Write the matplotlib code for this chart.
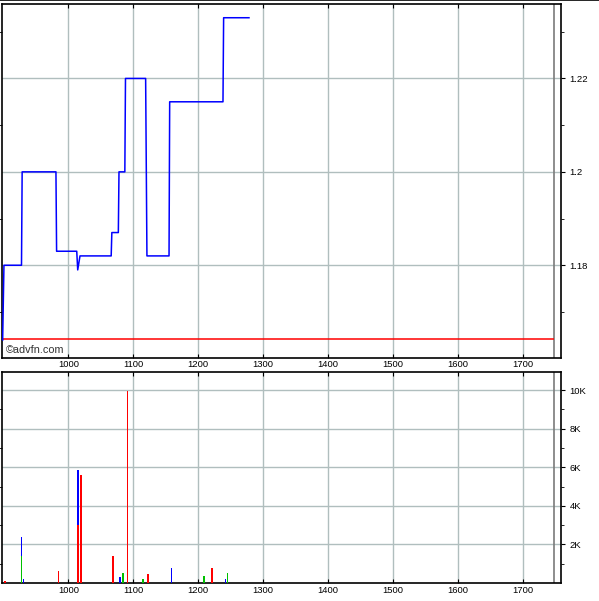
import numpy as np
import matplotlib
matplotlib.use("Agg")
import matplotlib.pyplot as plt
import matplotlib.ticker as ticker
from matplotlib.lines import Line2D

plt.rcParams["font.family"] = ["Liberation Sans", "DejaVu Sans"]

# price trace (minute index vs price)
price_t = [899, 901, 928, 929, 981, 982, 1013, 1014.5, 1018, 1066, 1067,
           1077, 1078, 1087, 1088, 1119, 1121, 1155, 1156, 1238, 1239, 1278]
price_v = [1.164, 1.18, 1.18, 1.20, 1.20, 1.183, 1.183, 1.179, 1.182, 1.182, 1.187,
           1.187, 1.20, 1.20, 1.22, 1.22, 1.182, 1.182, 1.215, 1.215, 1.233, 1.233]
prev_close = 1.1642
session_end = 1747

# volume bars, split by trade colour
vol_t = [903, 928, 931, 985, 1015, 1020, 1069, 1080, 1084, 1091,
         1115, 1123, 1159, 1209, 1221.5, 1242, 1245]
vol_red = [120, 0, 0, 630, 3030, 5590, 1400, 0, 0, 9950,
           0, 450, 0, 0, 770, 0, 0]
vol_green = [0, 1400, 0, 0, 0, 0, 0, 0, 510, 0,
             200, 0, 0, 360, 0, 0, 510]
vol_blue = [0, 1010, 200, 0, 2820, 0, 0, 310, 0, 0,
            0, 0, 800, 0, 0, 200, 0]

x_ticks = [1000, 1100, 1200, 1300, 1400, 1500, 1600, 1700]
xlim = (897.5, 1758.5)
grid_c = "#b0bebe"

fig = plt.figure(figsize=(5.99, 6.01), dpi=100)
ax_p = fig.add_axes([0.0028, 0.4048, 0.9342, 0.589])
ax_v = fig.add_axes([0.0028, 0.0300, 0.9342, 0.3515])

for ax in (ax_p, ax_v):
    ax.set_xlim(*xlim)
    ax.set_xticks(x_ticks)
    ax.grid(True, color=grid_c, lw=1.0)
    ax.set_axisbelow(True)
    ax.axvline(session_end, color="#7a7a7a", lw=1.2, zorder=1)
    ax.yaxis.tick_right()
    ax.tick_params(axis="x", direction="in", top=True, bottom=True, length=3,
                   labelsize=6.8, pad=2)
    ax.tick_params(axis="y", which="major", direction="out", left=False, right=True,
                   length=3, labelsize=6.8, pad=3)
    ax.tick_params(axis="y", which="minor", direction="out", left=True, right=True,
                   length=2)
    for s in ax.spines.values():
        s.set_linewidth(1.2)

# price panel
ax_p.plot(price_t, price_v, color="#0000ff", lw=1.1, zorder=3)
ax_p.hlines(prev_close, xlim[0], session_end, color="#ff0000", lw=1.1, zorder=2)
ax_p.set_ylim(1.1602, 1.236)
ax_p.set_yticks([1.18, 1.20, 1.22])
ax_p.yaxis.set_major_formatter(ticker.FuncFormatter(lambda v, p: f"{v:g}"))
ax_p.yaxis.set_minor_locator(ticker.FixedLocator([1.17, 1.19, 1.21, 1.23]))
ax_p.text(0.007, 0.008, "©advfn.com", transform=ax_p.transAxes, fontsize=7.8,
          color="#333333", ha="left", va="bottom")

# volume panel
bw = 2.6
ax_v.bar(vol_t, vol_red, width=bw, color="#ff0000", lw=0, zorder=3)
ax_v.bar(vol_t, vol_green, width=bw, bottom=vol_red, color="#00c000", lw=0, zorder=3)
bot = np.array(vol_red) + np.array(vol_green)
ax_v.bar(vol_t, vol_blue, width=bw, bottom=bot, color="#0000ff", lw=0, zorder=3)
ax_v.set_ylim(0, 10960)
ax_v.set_yticks([2000, 4000, 6000, 8000, 10000])
ax_v.yaxis.set_major_formatter(ticker.FuncFormatter(lambda v, p: f"{int(v / 1000)}K"))
ax_v.yaxis.set_minor_locator(ticker.FixedLocator([1000, 3000, 5000, 7000, 9000]))

fig.add_artist(Line2D([0, 1], [0.9995, 0.9995], transform=fig.transFigure,
                      color="black", lw=1.2))

fig.savefig("out.png", dpi=100)
